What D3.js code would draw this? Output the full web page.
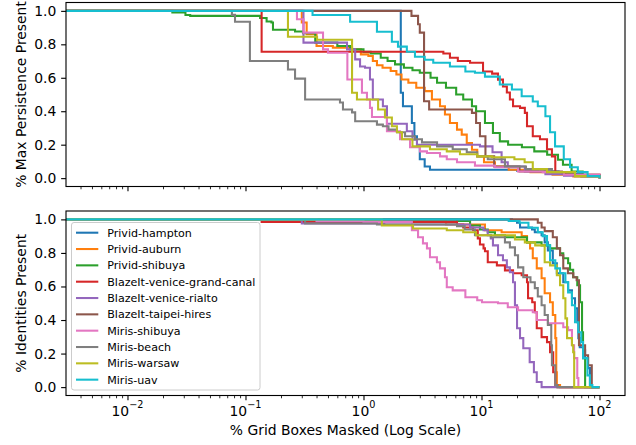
<!DOCTYPE html>
<html>
<head>
<meta charset="utf-8">
<script src="https://cdn.jsdelivr.net/npm/d3@7/dist/d3.min.js"></script>
<style>
  body { margin: 0; background: #fff; }
  svg { display: block; font-family: "DejaVu Sans", sans-serif; }
</style>
</head>
<body>
<svg width="636" height="445"></svg>
<script>
// series names, same order in both panels
const names = ["Privid-hampton", "Privid-auburn", "Privid-shibuya", "BlazeIt-venice-grand-canal",
  "BlazeIt-venice-rialto", "BlazeIt-taipei-hires", "Miris-shibuya", "Miris-beach", "Miris-warsaw", "Miris-uav"];

// top panel: [% grid boxes masked, max persistence present]
const topHampton = [[0.001,1],[2.07,0.51],[2.16,0.43],[2.57,0.33],[2.7,0.25],[2.84,0.19],[3.0,0.113],[3.3,0.07],[3.66,0.05],[20,0.045],[30,0.04],[45,0.025],[70,0.01],[100,0]];
const topAuburn = [[0.001,1],[0.3,0.93],[0.33,0.86],[0.4,0.79],[0.55,0.78],[0.8,0.77],[0.95,0.74],[1.1,0.73],[1.2,0.7],[1.3,0.675],[1.45,0.66],[1.7,0.64],[1.9,0.62],[2.1,0.59],[2.4,0.57],[2.8,0.54],[3.3,0.52],[3.8,0.47],[4.45,0.43],[4.9,0.38],[5.4,0.33],[6.2,0.29],[6.8,0.26],[7.5,0.21],[8.3,0.17],[9.2,0.13],[10.5,0.095],[13,0.07],[17,0.05],[26,0.035],[40,0.02],[60,0.01],[100,0]];
const topShibuya = [[0.001,1],[0.024,0.99],[0.031,0.975],[0.034,0.97],[0.133,0.957],[0.151,0.936],[0.166,0.93],[0.171,0.887],[0.263,0.877],[0.307,0.867],[0.39,0.81],[0.6,0.79],[0.77,0.77],[1.0,0.755],[1.15,0.745],[1.4,0.72],[1.6,0.7],[1.85,0.68],[2.2,0.66],[2.6,0.645],[3.0,0.63],[3.7,0.6],[4.2,0.57],[5.0,0.54],[6.1,0.5],[7.0,0.47],[8.3,0.43],[9.0,0.4],[10.7,0.33],[12.5,0.27],[14.3,0.22],[16.8,0.2],[22,0.185],[28,0.16],[36,0.14],[44.5,0.11],[49,0.08],[58,0.04],[72,0.015],[100,0]];
const topGrandCanal = [[0.001,1],[0.137,0.756],[4.75,0.745],[5.4,0.72],[6.3,0.7],[8.0,0.69],[10.3,0.637],[12.3,0.625],[13.8,0.589],[15.2,0.548],[16.4,0.512],[17.4,0.47],[18.5,0.43],[21.2,0.42],[23.3,0.39],[24.3,0.31],[27.2,0.25],[31.3,0.232],[35.9,0.173],[39.5,0.13],[42.2,0.036],[51.4,0.02],[100,0]];
const topRialto = [[0.001,1],[0.31,0.81],[0.725,0.77],[0.85,0.71],[0.935,0.667],[1.03,0.66],[1.135,0.59],[1.2,0.47],[1.46,0.43],[1.58,0.325],[2.33,0.28],[2.6,0.23],[2.84,0.2],[9.7,0.19],[12.4,0.155],[14.8,0.095],[16.7,0.07],[23.3,0.04],[34.8,0.024],[50,0.015],[100,0]];
const topTaipei = [[0.001,1],[2.55,0.97],[2.9,0.92],[3.0,0.87],[3.26,0.46],[3.6,0.41],[8.3,0.39],[9,0.33],[9.7,0.25],[10.8,0.13],[12.8,0.07],[21,0.04],[48,0.035],[60,0.02],[100,0]];
const topMirisShibuya = [[0.001,1],[0.273,0.95],[0.31,0.87],[0.454,0.77],[0.5,0.75],[0.73,0.59],[0.97,0.51],[1.07,0.47],[1.135,0.42],[1.18,0.365],[1.58,0.28],[2.04,0.232],[2.48,0.185],[3.01,0.16],[3.45,0.15],[4.45,0.13],[5.08,0.113],[6.2,0.095],[8.8,0.075],[13,0.065],[20.4,0.04],[33,0.036],[50,0.02],[100,0]];
const topBeach = [[0.001,1],[0.0767,0.976],[0.0815,0.935],[0.109,0.7],[0.229,0.649],[0.263,0.595],[0.32,0.47],[0.632,0.452],[0.67,0.41],[0.8,0.393],[0.85,0.34],[1.3,0.32],[1.46,0.31],[1.63,0.29],[1.92,0.274],[2.25,0.25],[2.73,0.232],[3.13,0.214],[4.2,0.19],[5.7,0.173],[7.5,0.155],[9.2,0.13],[11.3,0.113],[15.8,0.07],[23.8,0.054],[39.5,0.036],[62,0.012],[100,0]];
const topWarsaw = [[0.001,1],[0.229,0.845],[0.404,0.827],[0.8,0.51],[0.88,0.47],[1.33,0.41],[1.52,0.363],[1.74,0.31],[1.92,0.274],[2.12,0.232],[2.6,0.19],[3.66,0.173],[5.08,0.16],[6.57,0.143],[9.2,0.13],[12.3,0.125],[19,0.113],[23.2,0.095],[27.2,0.054],[35.9,0.036],[62,0.012],[100,0]];
const topUav = [[0.001,1],[0.37,0.975],[0.77,0.935],[1.3,0.875],[1.74,0.815],[1.96,0.786],[2.33,0.756],[2.73,0.726],[3.3,0.708],[3.9,0.69],[5.4,0.667],[7.3,0.637],[8.8,0.63],[10.7,0.607],[14.3,0.56],[18.1,0.53],[21.9,0.49],[27.2,0.458],[30,0.43],[34.8,0.37],[38.1,0.274],[42,0.19],[49.8,0.113],[56.3,0.065],[65.5,0.036],[79.3,0.012],[100,0]];

// bottom panel: [% grid boxes masked, identities present]
const botHampton = [[0.001,1],[18.1,0.99],[20,0.98],[21.2,0.952],[26.8,0.94],[28.3,0.923],[32.3,0.905],[34.3,0.863],[36.5,0.815],[40.2,0.738],[43.5,0.679],[49.3,0.625],[54.2,0.577],[58.4,0.53],[62,0.47],[64.8,0.387],[66.2,0.292],[68,0.238],[72.5,0.22],[75.5,0.173],[80,0.113],[83,0],[100,0]];
const botAuburn = [[0.001,1],[1.5,0.99],[5,0.97],[10.7,0.935],[14.8,0.923],[21.9,0.9],[24.3,0.863],[25.8,0.827],[27.2,0.768],[29.4,0.708],[32.3,0.649],[34.3,0.56],[38.1,0.506],[40.2,0.43],[42.2,0.292],[43,0.089],[43.5,0.012],[46.3,0],[100,0]];
const botShibuya = [[0.001,1],[6.2,0.99],[8.0,0.964],[9.7,0.94],[11.3,0.923],[13,0.905],[15.8,0.893],[24.3,0.863],[32.3,0.845],[38.1,0.827],[46.3,0.798],[49.3,0.768],[54.2,0.738],[56.3,0.7],[59.8,0.655],[64.8,0.607],[68.4,0.506],[71.1,0.327],[72.5,0.173],[75.5,0],[100,0]];
const botGrandCanal = [[0.001,1],[0.137,0.985],[6.2,0.97],[7.0,0.952],[8.5,0.935],[9.3,0.887],[9.7,0.85],[10.4,0.827],[10.7,0.81],[11.3,0.744],[13.5,0.726],[15.8,0.696],[18.5,0.679],[21.9,0.667],[24.3,0.625],[24.8,0.53],[26.9,0.506],[28.3,0.446],[29.4,0.351],[32.3,0.298],[35.9,0.268],[38.1,0.208],[40.5,0.089],[42.2,0.012],[44,0],[100,0]];
const botRialto = [[0.001,1],[0.3,0.975],[1.5,0.97],[8,0.952],[10.4,0.935],[11.3,0.905],[12,0.887],[12.5,0.845],[13.8,0.786],[15.2,0.756],[16.4,0.714],[17.4,0.685],[18.5,0.625],[19.2,0.488],[20,0.351],[21.2,0.292],[22.6,0.232],[25.6,0.149],[27.8,0.089],[29.4,0.03],[32.3,0],[100,0]];
const botTaipei = [[0.001,1],[30,0.98],[32.3,0.952],[34.3,0.93],[40.2,0.893],[43.5,0.827],[46.3,0.786],[49.3,0.708],[54,0.679],[60,0.655],[64,0.637],[67,0.25],[75.5,0.19],[80,0.13],[86,0],[100,0]];
const botMirisShibuya = [[0.001,1],[0.4,0.99],[1.0,0.985],[2.57,0.935],[2.9,0.893],[3.19,0.857],[3.45,0.827],[3.66,0.774],[4.19,0.744],[4.45,0.708],[4.9,0.655],[5.08,0.595],[5.7,0.577],[7.3,0.536],[9.2,0.518],[10.1,0.506],[13.8,0.5],[16.7,0.476],[20.4,0.458],[27.2,0.446],[29.4,0.4],[36.5,0.381],[49.3,0.357],[54.2,0.34],[58.4,0.25],[60.9,0.173],[64.8,0.054],[66.2,0],[100,0]];
const botBeach = [[0.001,1],[0.32,0.975],[1.3,0.97],[6.2,0.96],[7.2,0.94],[8.8,0.905],[12,0.893],[15.8,0.863],[17.4,0.833],[19.2,0.786],[20.4,0.714],[22.6,0.655],[26,0.625],[28.3,0.59],[30,0.54],[32.3,0.488],[34.3,0.43],[36.5,0.37],[39,0.25],[39.5,0.13],[42.2,0.012],[44,0],[100,0]];
const botWarsaw = [[0.001,1],[1.43,0.964],[2.63,0.946],[5.08,0.935],[7.0,0.923],[9,0.905],[19.2,0.88],[23.3,0.863],[28.5,0.845],[34.3,0.744],[38.1,0.726],[43.5,0.667],[46.3,0.607],[49.3,0.53],[51.4,0.41],[53.1,0.292],[58.4,0.25],[59.8,0.208],[61,0],[100,0]];
const botUav = [[0.001,1],[17,0.99],[21,0.98],[25,0.95],[30,0.923],[33,0.9],[35.9,0.845],[38.1,0.756],[42.2,0.708],[46.3,0.679],[51.4,0.625],[54.2,0.565],[58.4,0.488],[62,0.387],[66.2,0.327],[70,0.268],[72.5,0.173],[79,0.07],[83,0.012],[87,0],[100,0]];

const persistence = [topHampton, topAuburn, topShibuya, topGrandCanal, topRialto, topTaipei, topMirisShibuya, topBeach, topWarsaw, topUav];
const identities = [botHampton, botAuburn, botShibuya, botGrandCanal, botRialto, botTaipei, botMirisShibuya, botBeach, botWarsaw, botUav];

// ticks
const yTicks = [0, 0.2, 0.4, 0.6, 0.8, 1.0];
const xTicks = [0.01, 0.1, 1, 10, 100];
const xTickExp = ["\u22122", "\u22121", "0", "1", "2"];

const svg = d3.select("svg");
const color = d3.scaleOrdinal().domain(names).range(d3.schemeCategory10);

const left = 66, right = 625;
const x = d3.scaleLog()
  .domain([Math.pow(10, -2.521), Math.pow(10, 2.216)])
  .range([left, right]);

// minor ticks 2..9 of every decade inside the domain
const minorTicks = [];
for (let e = -3; e <= 2; e++) {
  for (let k = 2; k <= 9; k++) {
    const v = k * Math.pow(10, e);
    if (v >= x.domain()[0] && v <= x.domain()[1]) minorTicks.push(v);
  }
}

const majorLen = 4.86, minorLen = 2.78, pad = 4.86;

function panel(series, top, bottom, ylabel, id, withLabels) {
  const y = d3.scaleLinear().domain([-0.05, 1.05]).range([bottom, top]);
  const g = svg.append("g");

  g.append("clipPath").attr("id", id)
    .append("rect")
    .attr("x", left).attr("y", top)
    .attr("width", right - left).attr("height", bottom - top);

  const line = d3.line()
    .x(d => x(d[0]))
    .y(d => y(d[1]))
    .curve(d3.curveStepAfter);

  g.append("g").attr("clip-path", `url(#${id})`)
    .selectAll("path")
    .data(series)
    .enter()
    .append("path")
    .attr("d", line)
    .attr("fill", "none")
    .attr("stroke", (d, i) => color(names[i]))
    .attr("stroke-width", 2.08);

  // y axis
  const yAxis = g.append("g")
    .attr("transform", `translate(${left},0)`)
    .call(d3.axisLeft(y).tickValues(yTicks).tickFormat(d3.format(".1f")).tickSize(majorLen).tickPadding(pad));
  yAxis.select(".domain").remove();
  yAxis.selectAll("line").attr("stroke", "#000").attr("stroke-width", 1.11);
  yAxis.selectAll("text")
    .attr("fill", "#000")
    .style("font-size", "13.9px")
    .style("font-family", "DejaVu Sans");

  // x axis major + minor ticks
  const xMajor = g.append("g")
    .attr("transform", `translate(0,${bottom})`)
    .call(d3.axisBottom(x).tickValues(xTicks).tickFormat("").tickSize(majorLen));
  xMajor.select(".domain").remove();
  xMajor.selectAll("line").attr("stroke", "#000").attr("stroke-width", 1.11);

  const xMinor = g.append("g")
    .attr("transform", `translate(0,${bottom})`)
    .call(d3.axisBottom(x).tickValues(minorTicks).tickFormat("").tickSize(minorLen));
  xMinor.select(".domain").remove();
  xMinor.selectAll("line").attr("stroke", "#000").attr("stroke-width", 0.83);

  if (withLabels) {
    const lbl = g.append("g").selectAll("text")
      .data(xTicks)
      .enter()
      .append("text")
      .attr("x", d => x(d))
      .attr("y", bottom + 20.5)
      .attr("text-anchor", "middle")
      .style("font-size", "13.9px");
    lbl.append("tspan").text("10");
    lbl.append("tspan")
      .attr("dy", -7.6)
      .style("font-size", "9.7px")
      .text((d, i) => xTickExp[i]);
  }

  // frame
  g.append("rect")
    .attr("x", left).attr("y", top)
    .attr("width", right - left).attr("height", bottom - top)
    .attr("fill", "none")
    .attr("stroke", "#000")
    .attr("stroke-width", 1.11);

  g.append("text")
    .attr("transform", `translate(25.5,${(top + bottom) / 2}) rotate(-90)`)
    .attr("text-anchor", "middle")
    .style("font-size", "13.9px")
    .text(ylabel);

  return y;
}

panel(persistence, 2.5, 186.5, "% Max Persistence Present", "clipTop", false);
panel(identities, 211, 395.5, "% Identities Present", "clipBot", true);

svg.append("text")
  .attr("x", (left + right) / 2)
  .attr("y", 435)
  .attr("text-anchor", "middle")
  .style("font-size", "13.9px")
  .text("% Grid Boxes Masked (Log Scale)");

// legend, lower left of bottom panel
const legend = svg.append("g");
legend.append("rect")
  .attr("x", 71.5).attr("y", 222.5)
  .attr("width", 188.5).attr("height", 167.5)
  .attr("rx", 2.5)
  .attr("fill", "#fff").attr("fill-opacity", 0.8)
  .attr("stroke", "#cccccc").attr("stroke-width", 1);

const rows = legend.selectAll("g.row")
  .data(names)
  .enter()
  .append("g")
  .attr("class", "row")
  .attr("transform", (d, i) => `translate(0,${232.7 + i * 16.33})`);

rows.append("line")
  .attr("x1", 76).attr("x2", 98.3)
  .attr("stroke", d => color(d))
  .attr("stroke-width", 2.08);

rows.append("text")
  .attr("x", 107.2)
  .attr("dy", "0.36em")
  .style("font-size", "11.1px")
  .text(d => d);
</script>
</body>
</html>
